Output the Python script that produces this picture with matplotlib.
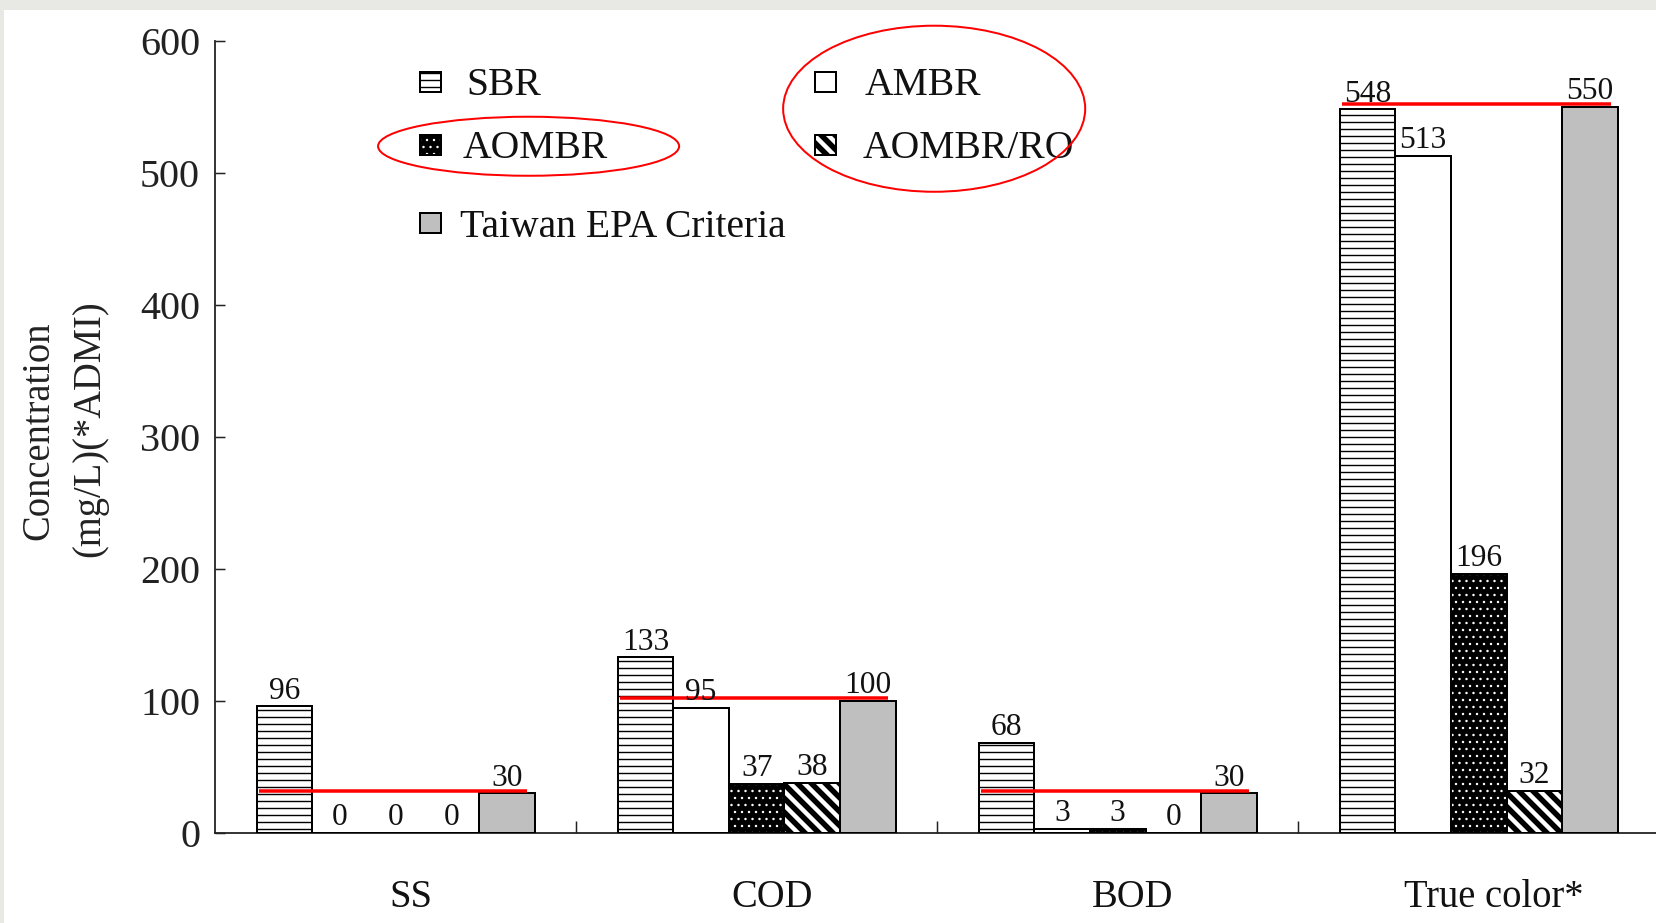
import matplotlib
matplotlib.use('Agg')
import matplotlib as mpl
import matplotlib.pyplot as plt
import numpy as np
from matplotlib.patches import Rectangle, Ellipse
from matplotlib.transforms import offset_copy

# ---- data -------------------------------------------------------------
categories = ['SS', 'COD', 'BOD', 'True color*']
sbr = [96, 133, 68, 548]
ambr = [0, 95, 3, 513]
aombr = [0, 37, 3, 196]
aombr_ro = [0, 38, 0, 32]
epa_criteria = [30, 100, 30, 550]
series_names = ['SBR', 'AMBR', 'AOMBR', 'AOMBR/RO', 'Taiwan EPA Criteria']
y_ticks = [0, 100, 200, 300, 400, 500, 600]

# ---- canvas -----------------------------------------------------------
DPI = 84
W, H = 1656, 923
PT = 72 / DPI          # points per pixel

plt.rcParams['font.family'] = ['Liberation Serif', 'DejaVu Serif']
fig = plt.figure(figsize=((W + 0.3) / DPI, (H + 0.3) / DPI), dpi=DPI,
                 facecolor='white')


def fx(px):
    return px / W


def fy(py):
    return 1 - py / H


def hatch_width(patch, lw_pt):
    """Give a single patch its own hatch line width."""
    if hasattr(patch, 'set_hatch_linewidth'):
        patch.set_hatch_linewidth(lw_pt)
    orig = patch.draw

    def draw(renderer, _orig=orig):
        with mpl.rc_context({'hatch.linewidth': lw_pt}):
            _orig(renderer)
    patch.draw = draw


# light frame strips along the top and left edges
fig.add_artist(Rectangle((0, fy(10)), 1, 10 / H, transform=fig.transFigure,
                         facecolor='#e8e8e4', edgecolor='none', zorder=-5))
fig.add_artist(Rectangle((0, 0), 4 / W, 1, transform=fig.transFigure,
                         facecolor='#e8e8e4', edgecolor='none', zorder=-5))

ax = fig.add_axes([fx(215), fy(833), 1444 / W, 792 / H])
ax.patch.set_visible(False)
ax.set_xlim(0, 4)
ax.set_ylim(0, 600)

styles = [
    dict(face='white', hatch='--', hcolor='black', hlw=1.4 * PT),
    dict(face='white', hatch=None, hcolor='black', hlw=1.0 * PT),
    dict(face='black', hatch='..', hcolor='white', hlw=1.0 * PT),
    dict(face='white', hatch='\\\\', hcolor='black', hlw=5.5 * PT),
    dict(face='#bfbfbf', hatch=None, hcolor='black', hlw=1.0 * PT),
]
series = [sbr, ambr, aombr, aombr_ro, epa_criteria]

x = np.arange(len(categories)) + 0.5
bw = 0.154

for i, (vals, st) in enumerate(zip(series, styles)):
    pos = x + (i - 2) * bw
    fill = ax.bar(pos, vals, bw, color=st['face'], edgecolor=st['hcolor'],
                  linewidth=0, hatch=st['hatch'], zorder=2)
    for p in fill:
        hatch_width(p, st['hlw'])
    ax.bar(pos, vals, bw, facecolor='none', edgecolor='black',
           linewidth=2 * PT, zorder=3)
    for xi, v in zip(pos, vals):
        ax.annotate(f'{v}', (xi, v), xytext=(0, 8 * PT),
                    textcoords='offset points', ha='center', va='baseline',
                    fontsize=31.5 * PT, color='#111111', zorder=5)

# red marker lines at the discharge criteria
raised = offset_copy(ax.transData, fig=fig, x=0, y=2.5, units='dots')
for xi, v in zip(x, epa_criteria):
    ax.plot([xi - 2.5 * bw + 0.006, xi + 2.5 * bw - 0.02], [v, v],
            color='#ff0000', linewidth=3.5 * PT, solid_capstyle='butt',
            transform=raised, zorder=4)

# category names under each group
for xi, name in zip(x, categories):
    ax.annotate(name, (xi, 0), xycoords=('data', 'axes fraction'),
                xytext=(15 * PT, -74 * PT), textcoords='offset points',
                ha='center', va='baseline', fontsize=38.5 * PT,
                color='#111111')

# axes styling
for side in ('top', 'right'):
    ax.spines[side].set_visible(False)
for side in ('left', 'bottom'):
    ax.spines[side].set_linewidth(1.8 * PT)
    ax.spines[side].set_color('#222222')

ax.set_yticks(y_ticks)
ax.set_yticklabels([str(t) for t in y_ticks])
ax.tick_params(axis='y', direction='in', length=10 * PT, width=1.5 * PT,
               pad=15 * PT, labelsize=40 * PT, colors='#222222')
ax.set_xticks([1, 2, 3])
ax.set_xticklabels([])
ax.tick_params(axis='x', direction='in', length=12 * PT, width=1.5 * PT,
               colors='#222222')

# y-axis title, two lines
fig.text(fx(39), fy(431), 'Concentration', rotation=90, ha='center',
         va='center', fontsize=38.5 * PT, color='#222222')
fig.text(fx(90), fy(428), '(mg/L)(*ADMI)', rotation=90, ha='center',
         va='center', fontsize=38.5 * PT, color='#222222')

# legend: (icon left, icon top, text left, text baseline) in pixels
legend_layout = [
    (420, 72, 466, 95),
    (815, 72, 864, 95),
    (420, 135, 463, 158),
    (815, 135, 862, 158),
    (420, 213, 460, 237),
]
for name, st, (ix, iy, tx, ty) in zip(series_names, styles, legend_layout):
    icon = Rectangle((fx(ix), fy(iy + 20)), 21 / W, 20 / H,
                     transform=fig.transFigure, facecolor=st['face'],
                     edgecolor=st['hcolor'], linewidth=0, hatch=st['hatch'])
    hatch_width(icon, st['hlw'])
    fig.add_artist(icon)
    fig.add_artist(Rectangle((fx(ix), fy(iy + 20)), 21 / W, 20 / H,
                             transform=fig.transFigure, facecolor='none',
                             edgecolor='black', linewidth=2 * PT))
    fig.text(fx(tx), fy(ty), name, ha='left', va='baseline',
             fontsize=39.7 * PT, color='#111111')

# red highlight rings around two legend entries
fig.add_artist(Ellipse((fx(528.5), fy(146.5)), 301 / W, 59 / H,
                       transform=fig.transFigure, fill=False,
                       edgecolor='#ff0000', linewidth=2 * PT, zorder=6))
fig.add_artist(Ellipse((fx(934), fy(109)), 302 / W, 166 / H,
                       transform=fig.transFigure, fill=False,
                       edgecolor='#ff0000', linewidth=2 * PT, zorder=6))

fig.savefig('out.png', dpi=DPI, facecolor='white')
